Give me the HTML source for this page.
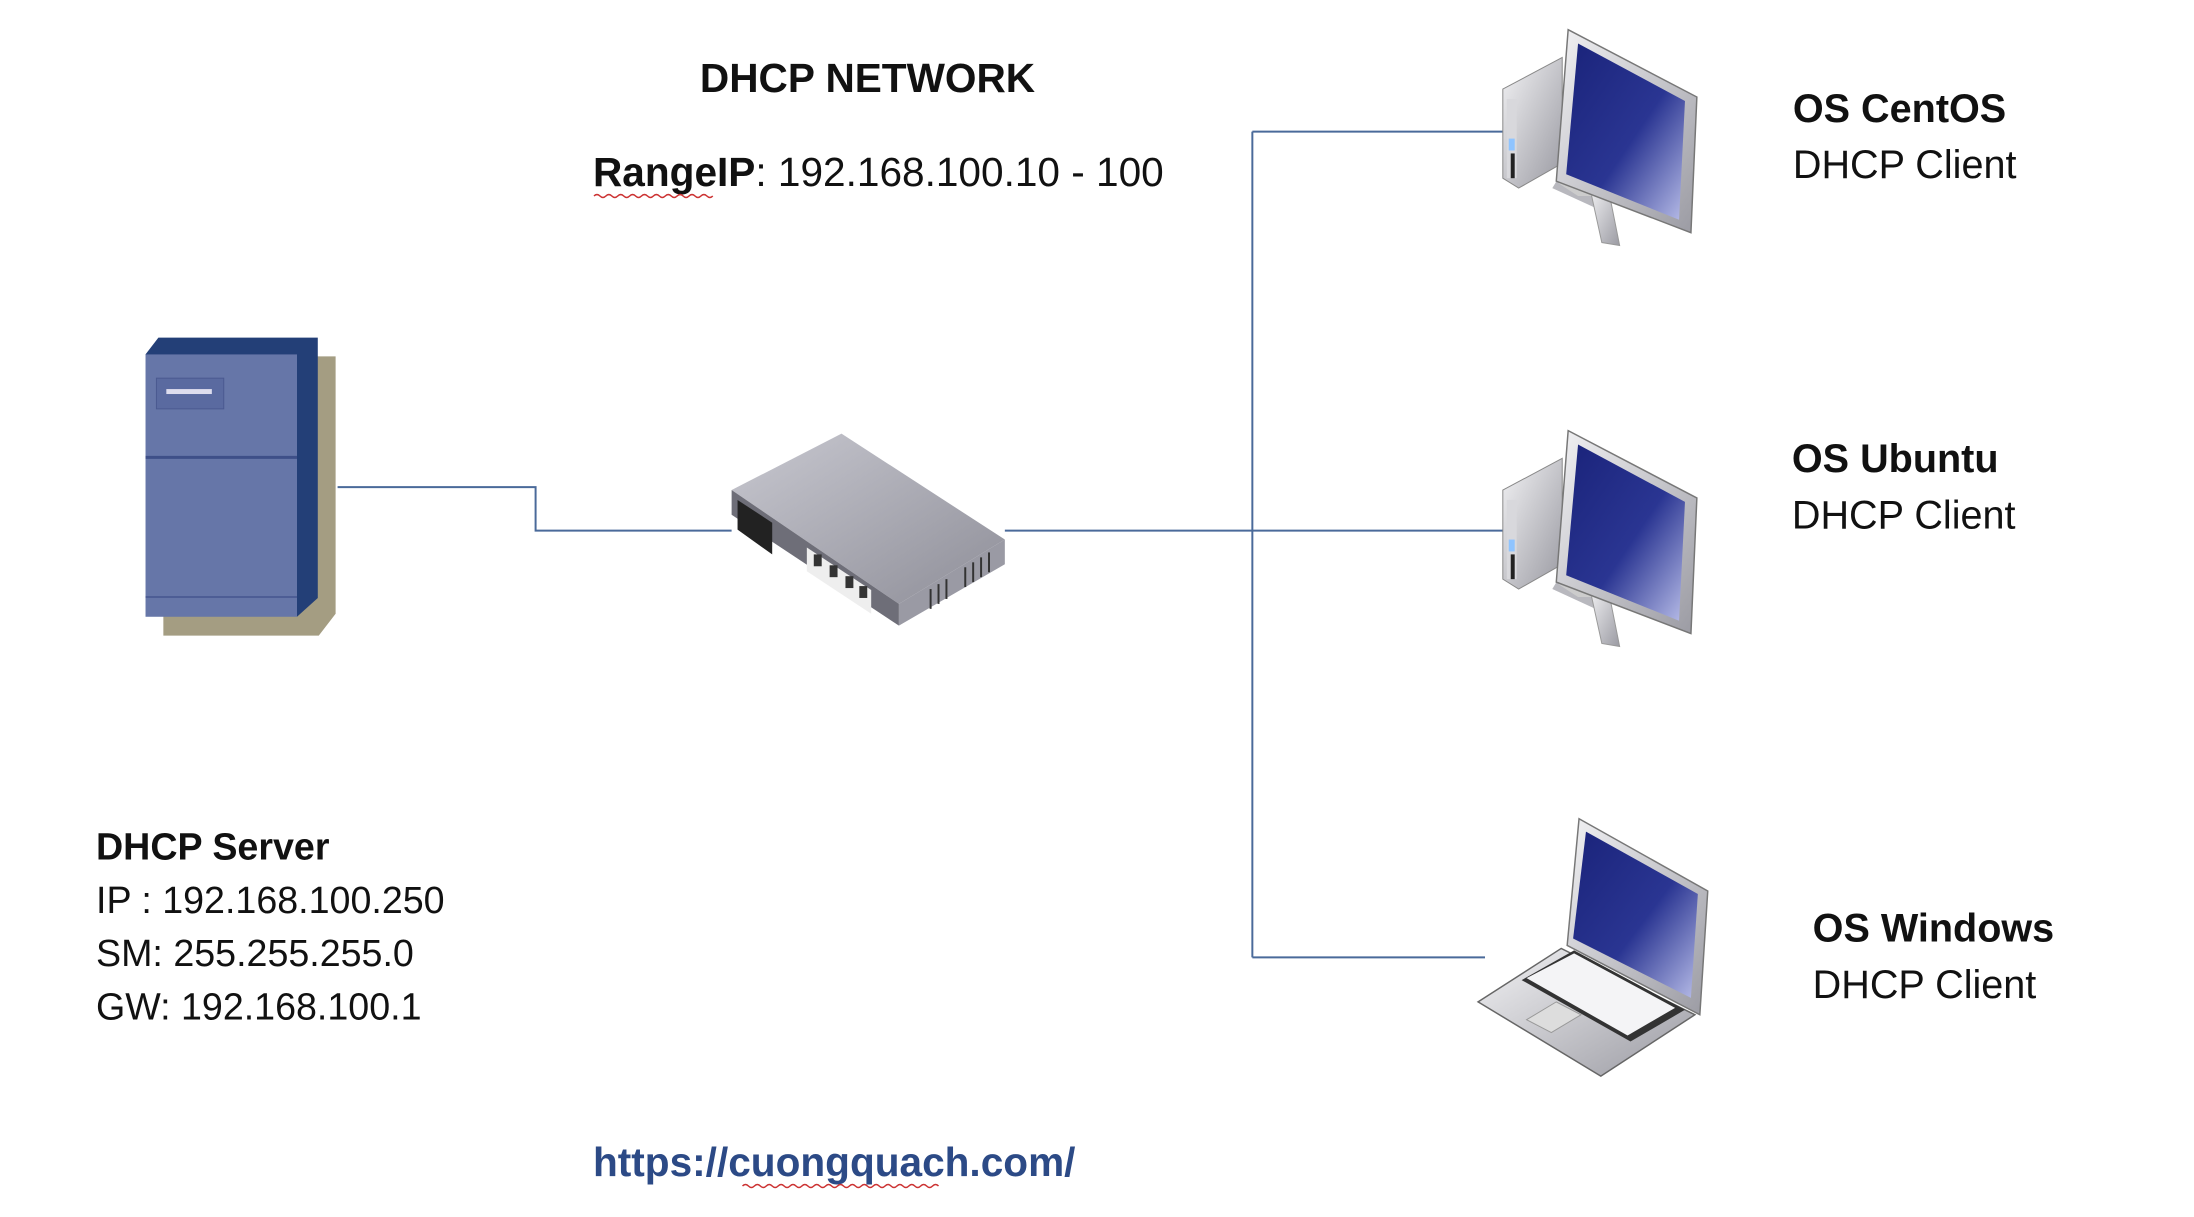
<!DOCTYPE html>
<html><head><meta charset="utf-8"><style>
html,body{margin:0;padding:0;background:#fff;}
body{width:2194px;height:1212px;overflow:hidden;}
svg text{font-family:"Liberation Sans",sans-serif;}
</style></head><body>
<svg width="2194" height="1212" viewBox="0 0 2194 1212" xmlns="http://www.w3.org/2000/svg">
<defs>
<linearGradient id="scr" x1="0" y1="0" x2="1" y2="1"><stop offset="0" stop-color="#1a237a"/><stop offset="0.55" stop-color="#2a3592"/><stop offset="1" stop-color="#b8bde8"/></linearGradient>
<linearGradient id="sil" x1="0" y1="0" x2="1" y2="1"><stop offset="0" stop-color="#f2f2f4"/><stop offset="1" stop-color="#9a9aa2"/></linearGradient>
<linearGradient id="swtop" x1="0" y1="0" x2="1" y2="1"><stop offset="0" stop-color="#c8c8d0"/><stop offset="1" stop-color="#8e8e98"/></linearGradient>
<g id="pc">
  <polygon points="0,60 60,28 60,135 16,160 0,150" fill="url(#sil)" stroke="#888" stroke-width="1"/>
  <rect x="4" y="70" width="10" height="80" fill="#d8d8dc"/>
  <rect x="6" y="110" width="6" height="12" fill="#8fc4ff"/>
  <rect x="8" y="125" width="4" height="25" fill="#222"/>
  <polygon points="56,150 110,172 98,182 50,160" fill="#b8b8be"/>
  <polygon points="88,160 100,215 118,218 108,168" fill="url(#sil)" stroke="#999"/>
  <polygon points="56,155 70,155 90,168 76,168" fill="#ccc"/>
  <polygon points="66,0 196,68 190,205 54,153" fill="url(#sil)" stroke="#777" stroke-width="1.5"/>
  <polygon points="76,14 184,72 178,192 64,146" fill="url(#scr)"/>
</g>
</defs>
<g transform="scale(0.99)">
<g fill="none" stroke="#4a6a9a" stroke-width="2">
<polyline points="341,492 541,492 541,536 739,536"/>
<line x1="1015" y1="536" x2="1265" y2="536"/>
<line x1="1265" y1="133" x2="1265" y2="967"/>
<line x1="1265" y1="133" x2="1520" y2="133"/>
<line x1="1265" y1="536" x2="1520" y2="536"/>
<line x1="1265" y1="967" x2="1500" y2="967"/>
</g>

<polygon points="165,360 339,360 339,620 322,642 165,642" fill="#a49d82"/>
<polygon points="147,358 160,341 321,341 321,604 300,623" fill="#233f77"/>
<rect x="147" y="358" width="153" height="265" fill="#6676a8"/>
<line x1="147" y1="462" x2="300" y2="462" stroke="#3e4f88" stroke-width="3"/>
<line x1="147" y1="603" x2="300" y2="603" stroke="#4d5d95" stroke-width="2"/>
<rect x="158" y="382" width="68" height="31" fill="#5a6aa0" stroke="#4a5990"/>
<rect x="168" y="393" width="46" height="5" fill="#dde"/>

<polygon points="739,495 850,438 1015,545 908,610" fill="url(#swtop)"/>
<polygon points="739,495 908,610 908,632 739,520" fill="#6e6e78"/>
<polygon points="908,610 1015,545 1015,570 908,632" fill="#9a9aa4"/>
<polygon points="745,505 780,528 780,560 745,535" fill="#222"/>
<polygon points="815,553 880,596 880,620 815,577" fill="#eee"/>
<g fill="#333"><rect x="822" y="560" width="8" height="12"/><rect x="838" y="571" width="8" height="12"/><rect x="854" y="582" width="8" height="12"/><rect x="868" y="592" width="8" height="12"/></g>
<g stroke="#333" stroke-width="2"><line x1="940" y1="595" x2="940" y2="615"/><line x1="948" y1="590" x2="948" y2="610"/><line x1="956" y1="585" x2="956" y2="605"/><line x1="975" y1="573" x2="975" y2="593"/><line x1="983" y1="568" x2="983" y2="588"/><line x1="991" y1="563" x2="991" y2="583"/><line x1="999" y1="558" x2="999" y2="578"/></g>

<use href="#pc" x="1518" y="30"/>
<use href="#pc" x="1518" y="435"/>

<g transform="translate(12,0)">
<polygon points="1481,1012 1565,958 1700,1025 1605,1087" fill="url(#sil)" stroke="#666" stroke-width="1.5"/>
<polygon points="1525,990 1578,960 1690,1020 1635,1052" fill="#333"/>
<polygon points="1530,988 1578,963 1680,1018 1632,1046" fill="#f4f4f6"/>
<polygon points="1530,1030 1560,1012 1585,1025 1555,1043" fill="#ddd" stroke="#999"/>
<polygon points="1583,827 1713,900 1705,1025 1571,955" fill="url(#sil)" stroke="#777" stroke-width="1.5"/>
<polygon points="1590,840 1703,903 1696,1008 1577,948" fill="url(#scr)"/>
</g>

<text x="707" y="93" font-size="41" font-weight="bold" fill="#111">DHCP NETWORK</text>
<text x="599" y="188" font-size="41" fill="#111"><tspan font-weight="bold">RangeIP</tspan>: 192.168.100.10 - 100</text>
<path d="M600,198 q3,-3 6,0 t6,0 t6,0 t6,0 t6,0 t6,0 t6,0 t6,0 t6,0 t6,0 t6,0 t6,0 t6,0 t6,0 t6,0 t6,0 t6,0 t6,0 t6,0 t6,0" fill="none" stroke="#c33" stroke-width="1.5"/>

<text x="1811" y="123" font-size="40" font-weight="bold" fill="#111">OS CentOS</text>
<text x="1811" y="180" font-size="40" fill="#111">DHCP Client</text>
<text x="1810" y="477" font-size="40" font-weight="bold" fill="#111">OS Ubuntu</text>
<text x="1810" y="534" font-size="40" fill="#111">DHCP Client</text>
<text x="1831" y="951" font-size="40" font-weight="bold" fill="#111">OS Windows</text>
<text x="1831" y="1008" font-size="40" fill="#111">DHCP Client</text>

<text x="97" y="868" font-size="38" font-weight="bold" fill="#111">DHCP Server</text>
<text x="97" y="922" font-size="38" fill="#111">IP : 192.168.100.250</text>
<text x="97" y="976" font-size="38" fill="#111">SM: 255.255.255.0</text>
<text x="97" y="1030" font-size="38" fill="#111">GW: 192.168.100.1</text>

<text x="599" y="1188" font-size="41" font-weight="bold" fill="#2c4a86">https://cuongquach.com/</text>
<path d="M750,1198 q3,-3 6,0 t6,0 t6,0 t6,0 t6,0 t6,0 t6,0 t6,0 t6,0 t6,0 t6,0 t6,0 t6,0 t6,0 t6,0 t6,0 t6,0 t6,0 t6,0 t6,0 t6,0 t6,0 t6,0 t6,0 t6,0 t6,0 t6,0 t6,0 t6,0 t6,0 t6,0 t6,0 t6,0" fill="none" stroke="#c33" stroke-width="1.5"/>
</g>
</svg>
</body></html>
